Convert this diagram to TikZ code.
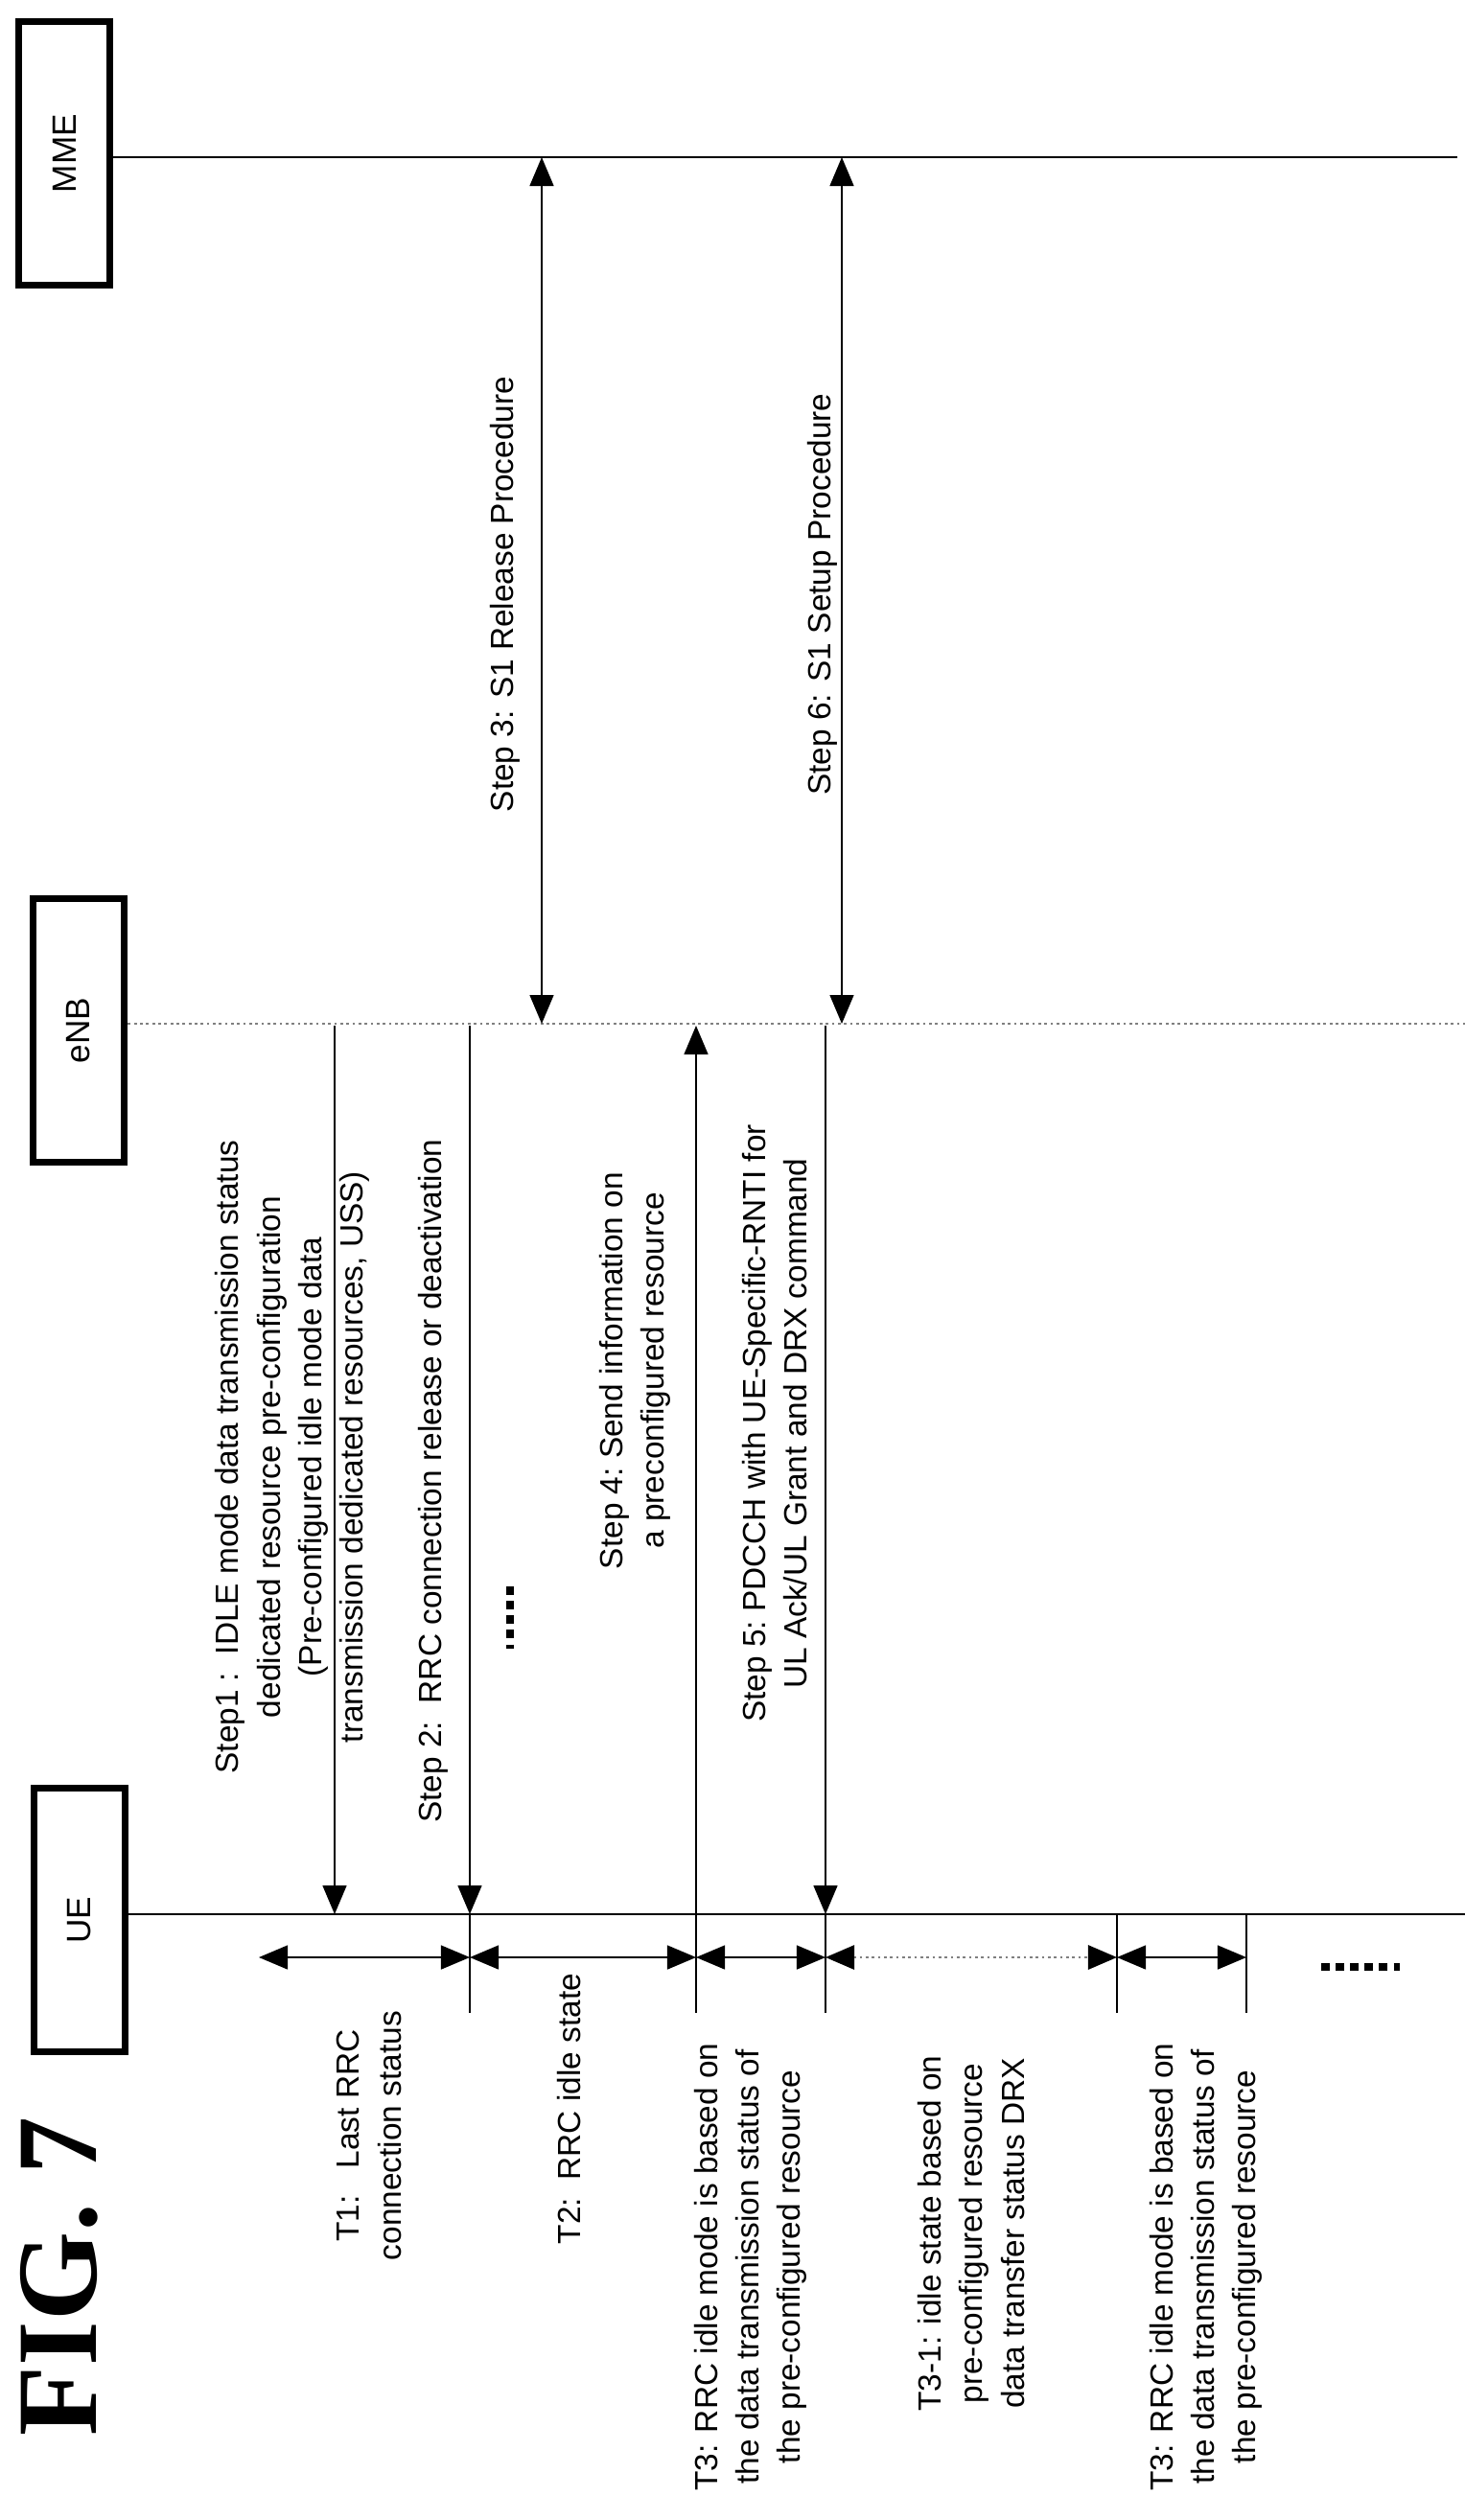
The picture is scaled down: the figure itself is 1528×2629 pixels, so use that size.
\documentclass[tikz,border=0pt]{standalone}
\usepackage{fontspec}
\setmainfont{Liberation Sans}
\usetikzlibrary{arrows.meta}
\begin{document}
\begin{tikzpicture}[x=0.01cm, y=-0.01cm, line cap=butt,
    ent/.style={draw, line width=2.2pt, minimum width=2.75cm, minimum height=0.95cm, rotate=90, font=\fontsize{10}{12}\selectfont},
    lbl/.style={rotate=90, align=center, font=\fontsize{9.5}{12.3}\selectfont},
    tip/.style={-{Triangle[length=3mm,width=2.5mm]}},
    dtip/.style={{Triangle[length=3mm,width=2.5mm,color=black]}-{Triangle[length=3mm,width=2.5mm,color=black]}}]
  \useasboundingbox (0,0) rectangle (1528,2629);

  % entities and lifelines
  \node[ent] (mme) at (67,160) {MME};
  \node[ent] (enb) at (82,1075) {eNB};
  \node[ent] (ue) at (83,2003) {UE};
  \coordinate (mmeE) at (1520,164);
  \coordinate (enbE) at (1528,1068);
  \coordinate (ueE) at (1528,1997);
  \draw (mme.south |- mmeE) -- (mmeE);
  \draw[gray, densely dotted, line width=0.8pt] (enb.south |- enbE) -- (enbE);
  \draw[line width=0.8pt] (ue.south |- ueE) -- (ueE);

  % S1 procedures
  \draw[dtip] (565,164) -- (565,1068);
  \draw[dtip] (878,164) -- (878,1068);
  \node[lbl] (s3) at (527,620) {Step 3: S1 Release Procedure};
  \node[lbl] (s6) at (858,620) {Step 6: S1 Setup Procedure};

  % radio steps
  \draw[tip] (349,1070) -- (349,1997);
  \draw[tip] (490,1070) -- (490,1997);
  \draw[tip] (726,1997) -- (726,1070);
  \draw[tip] (861,1070) -- (861,1997);
  \node[lbl] (s1) at (305,1520) {Step1 :\ \ IDLE mode data transmission status\\dedicated resource pre-configuration\\(Pre-configured idle mode data\\transmission dedicated resources, USS)};
  \node[lbl] (s2) at (452,1545) {Step 2:\ \ RRC connection release or deactivation};
  \node[lbl] (s4) at (662,1430) {Step 4:\ Send information on\\a preconfigured resource};
  \node[lbl] (s5) at (808,1485) {Step 5:\ PDCCH with UE-Specific-RNTI for\\UL Ack/UL Grant and DRX command};
  \draw[line width=2.5pt, dash pattern=on 2.5pt off 1.8pt] (532,1655) -- (532,1720);

  % timers
  \foreach \t in {490,726,861,1165,1300}
    \draw (\t,1997) -- (\t,2100);
  \draw[dtip] (270,2042) -- (490,2042);
  \draw[dtip] (490,2042) -- (726,2042);
  \draw[dtip] (726,2042) -- (861,2042);
  \draw[dtip, gray, densely dotted, line width=0.8pt] (861,2042) -- (1165,2042);
  \draw[dtip] (1165,2042) -- (1300,2042);
  \draw[line width=2.5pt, dash pattern=on 2.5pt off 1.8pt] (1378,2052) -- (1460,2052);

  \node[lbl] (t1) at (385,2228) {T1:\ \ \ Last RRC\\connection status};
  \node[lbl] (t2) at (594,2200) {T2:\ \ RRC idle state};
  \node[lbl] (t3) at (783,2365) {T3: RRC idle mode is based on\\the data transmission status of\\the pre-configured resource};
  \node[lbl] (t31) at (1013,2330) {T3-1: idle state based on\\pre-configured resource\\data transfer status DRX};
  \node[lbl] (t3b) at (1258,2365) {T3: RRC idle mode is based on\\the data transmission status of\\the pre-configured resource};

  \node[rotate=90, font=\fontspec{Liberation Serif}\bfseries\fontsize{34}{34}\selectfont] (fig) at (62,2375) {FIG. 7};
\end{tikzpicture}
\end{document}
